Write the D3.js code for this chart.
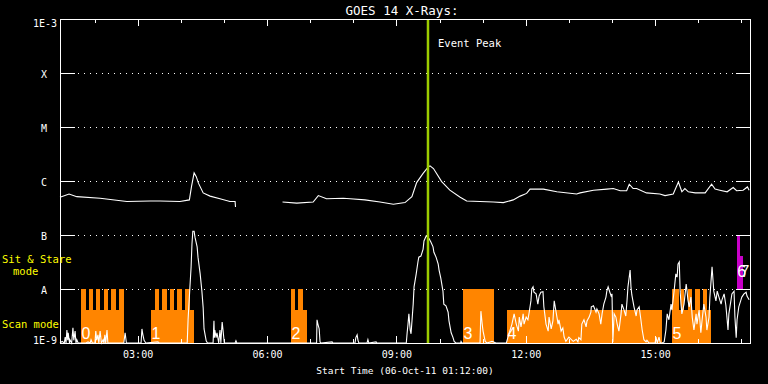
<!DOCTYPE html>
<html><head><meta charset="utf-8">
<script src="https://cdn.jsdelivr.net/npm/d3@7"></script>
<style>
html,body{margin:0;padding:0;background:#000;}
svg{display:block;background:#000;}
text{font-family:"DejaVu Sans Mono",monospace;}
</style>
</head><body>
<svg id="chart" width="768" height="384"></svg>
<script>
// ---- DATA (time in hours of 06-Oct-2011, flux as log10 W/m^2) ----
const timeDomain = [1.2, 17.2];           // 01:12 -> 17:12
const fluxDomain = [-9, -3];
const decadeTicks = [-9, -8, -7, -6, -5, -4, -3];
const decadeLabels = ["1E-9", "A", "B", "C", "M", "X", "1E-3"];
const hourTicks = [2,3,4,5,6,7,8,9,10,11,12,13,14,15,16,17];
const majorTicks = [3, 6, 9, 12, 15];
const majorLabels = ["03:00", "06:00", "09:00", "12:00", "15:00"];
const eventPeak = 9.733;

// GOES 14 long channel (1-8 A); null = data gap
const longChannel = [
 [1.20,-6.30],[1.41,-6.24],[1.59,-6.29],[2.13,-6.32],[2.75,-6.38],[3.29,-6.37],[3.52,-6.37],
 [3.98,-6.38],[4.20,-6.35],[4.25,-6.10],[4.31,-5.85],[4.36,-5.92],[4.41,-6.04],[4.52,-6.22],
 [4.68,-6.28],[4.91,-6.33],[5.14,-6.38],[5.26,-6.38],[5.27,-6.48],[5.80,null],
 [6.36,-6.39],[6.69,-6.41],[7.07,-6.39],[7.19,-6.27],[7.38,-6.33],[7.77,-6.32],[7.93,-6.33],
 [8.27,-6.35],[8.62,-6.39],[8.93,-6.43],[9.20,-6.40],[9.36,-6.29],[9.47,-6.03],[9.62,-5.86],
 [9.74,-5.74],[9.78,-5.72],[9.86,-5.77],[10.05,-6.01],[10.24,-6.17],[10.48,-6.30],[10.63,-6.37],
 [10.94,-6.38],[11.25,-6.39],[11.48,-6.40],[11.71,-6.35],[11.87,-6.28],[12.02,-6.23],[12.10,-6.15],
 [12.41,-6.15],[12.72,-6.20],[13.18,-6.24],[13.26,-6.22],[13.57,-6.17],[13.88,-6.15],[14.03,-6.14],
 [14.19,-6.18],[14.34,-6.18],[14.40,-6.06],[14.49,-6.14],[14.57,-6.14],[14.80,-6.22],[15.11,-6.24],
 [15.23,-6.27],[15.42,-6.24],[15.54,-6.02],[15.62,-6.20],[15.69,-6.14],[15.77,-6.20],[15.93,-6.22],
 [16.16,-6.22],[16.31,-6.06],[16.39,-6.15],[16.50,-6.17],[16.67,-6.20],[16.81,-6.12],[16.89,-6.18],
 [17.04,-6.17],[17.14,-6.11],[17.18,-6.17]
];

// GOES 14 short channel (0.5-4 A)
const shortChannel = [
 [1.20,-9],[1.25,-8.97],[1.30,-9],[1.32,-8.89],[1.34,-9],[1.36,-8.76],[1.38,-8.95],[1.39,-8.81],[1.42,-9],
 [1.43,-8.94],[1.47,-9],[1.50,-8.72],[1.52,-8.95],[1.55,-8.78],[1.57,-9],[1.59,-8.94],[1.62,-9],
 [1.80,-9],[1.85,-8.98],[1.90,-9],[1.92,-8.94],[1.95,-9],[2.01,-9],[2.03,-8.78],[2.05,-8.95],[2.08,-8.85],
 [2.10,-9],[2.13,-8.78],[2.16,-9],[2.20,-8.94],[2.22,-9],[2.24,-8.85],[2.26,-9],[2.29,-8.76],[2.31,-9],
 [2.68,-9],[2.71,-8.81],[2.74,-9],[3.08,-9],[3.10,-8.74],[3.12,-8.84],[3.15,-8.95],[3.19,-9],
 [3.47,-8.98],[3.50,-9],[4.15,-9],[4.17,-8.57],[4.21,-8.00],[4.24,-7.59],[4.26,-7.17],[4.28,-6.93],
 [4.31,-6.93],[4.33,-7.04],[4.38,-7.22],[4.40,-7.41],[4.45,-7.72],[4.49,-8.04],[4.52,-8.35],[4.54,-8.74],
 [4.59,-8.96],[4.62,-9],[4.75,-9],[4.77,-8.59],[4.78,-8.90],[4.79,-8.76],[4.82,-8.90],[4.84,-8.81],[4.88,-9],
 [4.91,-8.76],[4.93,-9],[4.96,-8.61],[4.98,-8.76],[5.01,-9],[5.26,-9],[5.28,-8.96],[5.30,-9],
 [7.15,-9],[7.16,-8.57],[7.18,-8.65],[7.21,-8.74],[7.23,-8.98],[7.25,-9],[7.51,-8.98],[7.53,-9],
 [8.04,-9],[8.06,-8.90],[8.09,-8.85],[8.11,-8.95],[8.13,-9],[8.32,-9],[8.34,-8.94],[8.36,-9],
 [8.53,-8.98],[8.55,-9],[9.23,-9],[9.25,-8.81],[9.27,-8.65],[9.29,-8.46],[9.32,-8.76],[9.34,-8.83],
 [9.39,-8.28],[9.41,-7.96],[9.46,-7.72],[9.50,-7.50],[9.52,-7.41],[9.57,-7.39],[9.62,-7.26],[9.64,-7.11],
 [9.69,-7.02],[9.73,-7.04],[9.76,-7.07],[9.80,-7.13],[9.85,-7.22],[9.87,-7.32],[9.92,-7.41],[9.97,-7.54],
 [9.99,-7.65],[10.03,-7.80],[10.08,-8.04],[10.10,-8.28],[10.15,-8.31],[10.20,-8.43],[10.22,-8.59],
 [10.27,-8.81],[10.31,-8.89],[10.34,-8.97],[10.38,-9],[10.49,-9],[10.50,-8.97],[10.52,-9],
 [10.94,-9],[10.96,-8.41],[10.99,-8.65],[11.01,-8.78],[11.06,-8.97],[11.10,-9],[11.22,-8.97],[11.31,-9],
 [11.55,-9],[11.61,-8.83],[11.68,-8.65],[11.73,-8.46],[11.78,-8.65],[11.83,-8.78],[11.85,-8.52],
 [11.89,-8.70],[11.94,-8.46],[11.96,-8.65],[12.01,-8.52],[12.05,-8.57],[12.08,-8.43],[12.12,-8.22],
 [12.14,-8.00],[12.17,-7.96],[12.19,-8.06],[12.24,-8.09],[12.28,-8.28],[12.31,-8.13],[12.35,-8.06],
 [12.40,-8.05],[12.42,-8.33],[12.47,-8.65],[12.52,-8.78],[12.54,-8.52],[12.59,-8.74],[12.63,-8.59],
 [12.66,-8.22],[12.70,-8.41],[12.75,-8.65],[12.77,-8.57],[12.82,-8.78],[12.86,-8.72],[12.89,-8.89],
 [12.93,-8.97],[13.00,-8.89],[13.10,-8.97],[13.17,-8.93],[13.21,-8.98],[13.23,-8.90],[13.28,-8.94],
 [13.30,-8.65],[13.35,-8.57],[13.40,-8.70],[13.42,-8.59],[13.47,-8.52],[13.51,-8.43],[13.52,-8.33],
 [13.57,-8.31],[13.63,-8.43],[13.65,-8.37],[13.70,-8.46],[13.74,-8.65],[13.77,-8.46],[13.81,-8.28],
 [13.86,-8.15],[13.88,-8.04],[13.91,-7.96],[13.95,-8.06],[13.98,-8.13],[14.00,-8.09],[14.02,-8.98],
 [14.05,-8.46],[14.09,-8.52],[14.12,-8.65],[14.16,-8.78],[14.21,-8.46],[14.23,-8.28],[14.28,-8.39],
 [14.32,-8.50],[14.35,-8.20],[14.37,-7.96],[14.42,-7.65],[14.44,-7.96],[14.46,-8.11],[14.51,-8.33],
 [14.56,-8.50],[14.58,-8.39],[14.63,-8.33],[14.67,-8.57],[14.70,-8.76],[14.74,-8.94],[14.79,-8.98],
 [14.81,-8.95],[14.86,-9],[15.00,-9],[15.02,-8.89],[15.05,-9],[15.09,-8.89],[15.12,-9],[15.16,-9],
 [15.21,-8.98],[15.25,-8.76],[15.28,-8.46],[15.32,-8.57],[15.37,-8.28],[15.39,-8.39],[15.44,-8.04],
 [15.48,-7.72],[15.51,-7.78],[15.53,-7.54],[15.56,-7.50],[15.58,-8.04],[15.60,-8.28],[15.62,-8.46],
 [15.67,-8.28],[15.72,-7.91],[15.74,-8.04],[15.76,-8.20],[15.79,-8.33],[15.83,-8.15],[15.86,-8.52],
 [15.90,-8.76],[15.95,-8.46],[15.97,-8.65],[16.02,-8.39],[16.06,-8.81],[16.09,-8.57],[16.13,-8.28],
 [16.18,-8.52],[16.20,-8.76],[16.25,-8.52],[16.27,-8.15],[16.32,-7.59],[16.33,-7.70],[16.36,-8.04],
 [16.41,-8.22],[16.44,-8.04],[16.48,-8.15],[16.53,-8.28],[16.55,-8.20],[16.60,-8.09],[16.64,-8.30],
 [16.67,-8.57],[16.69,-8.76],[16.71,-8.46],[16.76,-8.20],[16.78,-8.09],[16.83,-8.04],[16.85,-8.52],
 [16.88,-8.90],[16.90,-8.57],[16.94,-8.33],[16.99,-8.20],[17.01,-8.15],[17.06,-8.09],[17.11,-8.06],
 [17.13,-8.13],[17.18,-8.20]
];

// observing mode intervals [start, end] in hours
const scanIntervals = [[1.687,2.684],[3.310,4.307],[6.557,6.928],[11.565,15.159],[15.391,16.296]];
const stareIntervals = [
 [1.687,1.803],[1.872,1.972],[2.035,2.135],[2.213,2.320],[2.390,2.492],[2.568,2.684],
 [3.403,3.496],[3.572,3.674],[3.751,3.843],[3.920,4.022],[4.099,4.214],
 [6.557,6.649],[6.719,6.835],[10.545,11.264],
 [15.391,15.554],[15.600,15.677],[15.763,15.855],[15.925,16.041],[16.110,16.203]
];
const scanLevel = Math.log10(4e-9);
const stareLevel = -8;
const otherIntervals = [[16.89,16.97],[16.97,17.04]];
const otherTops = [-7, Math.log10(4e-8)];
const blockStarts = [1.687, 3.310, 6.557, 10.545, 11.565, 15.391, 16.89, 16.97];
const blockNames = ["0","1","2","3","4","5","6","7"];
const blockKinds = ["o","o","o","o","o","o","m","m"];

// ---- DRAWING ----
const svg = d3.select("#chart");
const x = d3.scaleLinear().domain(timeDomain).range([60, 750]);
const y = d3.scaleLinear().domain(fluxDomain).range([343, 19]);
const ORANGE = "#ff8500", MAGENTA = "#c800c8", GREEN = "#9ccc00";

svg.append("rect").attr("width",768).attr("height",384).attr("fill","#000");

// dotted grid
svg.append("g").selectAll("line").data(decadeTicks.slice(1,-1)).join("line")
  .attr("x1", 78).attr("x2", 736)
  .attr("y1", d => Math.round(y(d)) + 0.5).attr("y2", d => Math.round(y(d)) + 0.5)
  .attr("stroke", "#fff").attr("stroke-width", 1).attr("stroke-dasharray", "1,5")
  .attr("shape-rendering","crispEdges");

// orange mode bars
const bars = svg.append("g").attr("shape-rendering","crispEdges");
bars.selectAll("rect.scan").data(scanIntervals).join("rect").attr("class","scan")
  .attr("x", d => x(d[0])).attr("width", d => x(d[1]) - x(d[0]))
  .attr("y", y(scanLevel)).attr("height", y(-9) - y(scanLevel)).attr("fill", ORANGE);
bars.selectAll("rect.stare").data(stareIntervals).join("rect").attr("class","stare")
  .attr("x", d => x(d[0])).attr("width", d => x(d[1]) - x(d[0]))
  .attr("y", y(stareLevel)).attr("height", y(-9) - y(stareLevel)).attr("fill", ORANGE);
bars.selectAll("rect.other").data(otherIntervals).join("rect").attr("class","other")
  .attr("x", d => x(d[0])).attr("width", d => x(d[1]) - x(d[0]))
  .attr("y", (d,i) => y(otherTops[i])).attr("height", (d,i) => y(-8) - y(otherTops[i]))
  .attr("fill", MAGENTA);

// curves
const line = d3.line()
  .defined(d => d[1] !== null)
  .x(d => x(d[0]))
  .y(d => y(Math.max(d[1], -9)));
svg.append("path").datum(longChannel).attr("d", line)
  .attr("fill","none").attr("stroke","#fff").attr("stroke-width",1.1);
svg.append("path").datum(shortChannel).attr("d", line)
  .attr("fill","none").attr("stroke","#fff").attr("stroke-width",1.1);

// block numbers
svg.append("g").selectAll("text").data(blockNames).join("text")
  .attr("x", (d,i) => x(blockStarts[i]) + 0.5)
  .attr("y", (d,i) => blockKinds[i] === "o" ? y(-9) - 4 : y(-8) - 12)
  .attr("fill","#fff").attr("font-size", 16)
  .style("font-family", "'Liberation Sans', Arial, sans-serif")
  .text(d => d);

// event peak line
svg.append("line").attr("x1", x(eventPeak)).attr("x2", x(eventPeak))
  .attr("y1", 19).attr("y2", 343).attr("stroke", GREEN).attr("stroke-width", 2.5);
svg.append("text").attr("x", x(eventPeak) + 10).attr("y", 47)
  .attr("fill","#fff").attr("font-size",10.5).text("Event Peak");

// axes
function styleAxis(g){
  g.select(".domain").remove();
  g.selectAll(".tick line").attr("stroke","#fff").attr("shape-rendering","crispEdges");
  g.selectAll(".tick text").attr("fill","#fff");
}
svg.append("g").attr("transform","translate(0,343)")
  .call(d3.axisBottom(x).tickValues(hourTicks).tickSize(-4).tickFormat("")).call(styleAxis);
svg.append("g").attr("transform","translate(0,343)")
  .call(d3.axisBottom(x).tickValues(majorTicks).tickSize(-7).tickPadding(8)
    .tickFormat((d,i) => majorLabels[i]))
  .call(styleAxis)
  .call(g => g.selectAll(".tick text").attr("font-size",10).style("font-family","'DejaVu Sans Mono',monospace"));
svg.append("g").attr("transform","translate(0,19)")
  .call(d3.axisTop(x).tickValues(hourTicks).tickSize(-4).tickFormat("")).call(styleAxis);
svg.append("g").attr("transform","translate(0,19)")
  .call(d3.axisTop(x).tickValues(majorTicks).tickSize(-7).tickFormat("")).call(styleAxis);
svg.append("g").attr("transform","translate(60,0)")
  .call(d3.axisLeft(y).tickValues(decadeTicks).tickSize(-15).tickFormat("")).call(styleAxis);
svg.append("g").attr("transform","translate(750,0)")
  .call(d3.axisRight(y).tickValues(decadeTicks).tickSize(-14).tickFormat("")).call(styleAxis);

// frame
svg.append("rect").attr("x",60.5).attr("y",19.5).attr("width",690).attr("height",324)
  .attr("fill","none").attr("stroke","#fff").attr("stroke-width",1).attr("shape-rendering","crispEdges");

// y labels
svg.append("g").selectAll("text").data(decadeTicks).join("text")
  .attr("x", (d,i) => decadeLabels[i].length > 1 ? 57 : 44)
  .attr("y", (d,i) => i === 0 ? y(d) + 1 : (i === decadeTicks.length - 1 ? y(d) + 8 : y(d) + 5))
  .attr("text-anchor", (d,i) => decadeLabels[i].length > 1 ? "end" : "middle")
  .attr("fill","#fff").attr("font-size",10)
  .text((d,i) => decadeLabels[i]);

// mode labels
const modeLabels = svg.append("g").attr("fill","#ffff00").attr("font-size",10.5);
modeLabels.append("text").attr("x",2).attr("y",263).text("Sit & Stare");
modeLabels.append("text").attr("x",13).attr("y",274.5).text("mode");
modeLabels.append("text").attr("x",2).attr("y",328).text("Scan mode");

// titles
svg.append("text").attr("x",402).attr("y",14.5).attr("text-anchor","middle")
  .attr("fill","#fff").attr("font-size",12.5).text("GOES 14 X-Rays:");
svg.append("text").attr("x",405).attr("y",373.5).attr("text-anchor","middle")
  .attr("fill","#fff").attr("font-size",9.5).text("Start Time (06-Oct-11 01:12:00)");
</script>
</body></html>
